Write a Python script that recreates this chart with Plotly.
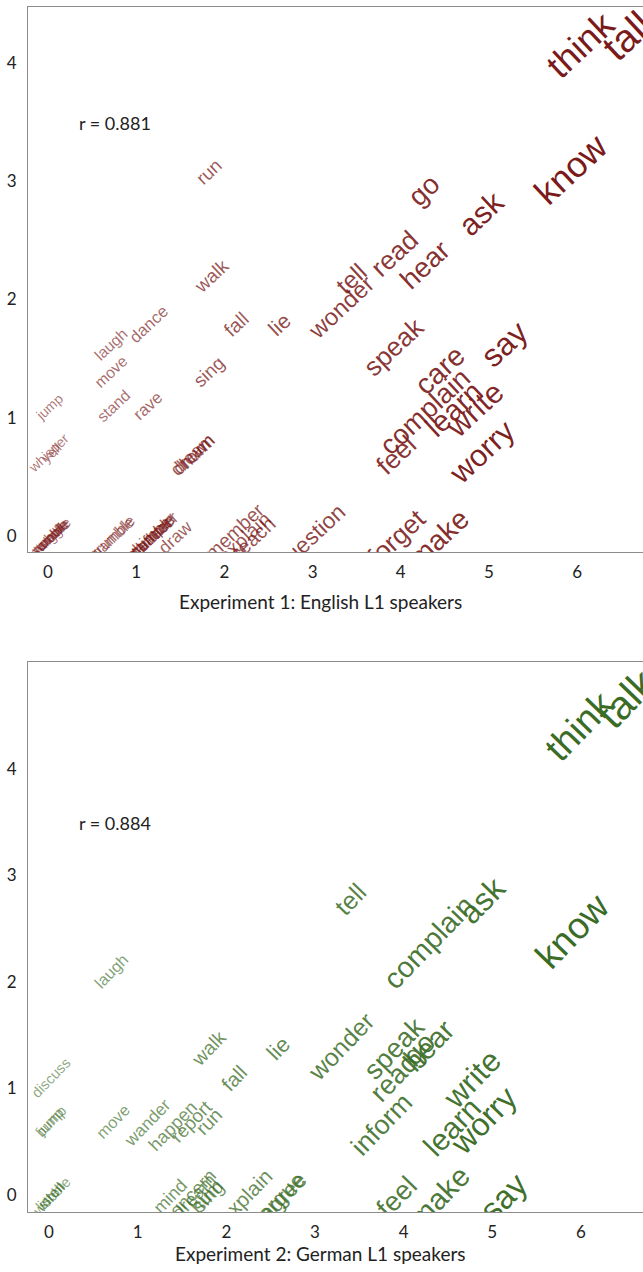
import plotly.graph_objects as go

# ---- Experiment 1: English L1 speakers ----
words_en = ["think", "talk", "know", "ask", "go", "read", "hear", "tell", "wonder",
            "speak", "say", "care", "complain", "learn", "write", "feel", "worry",
            "forget", "make", "question", "remember", "explain", "teach", "draw",
            "run", "walk", "fall", "lie", "laugh", "dance", "move", "sing", "jump",
            "stand", "rave", "whisper", "yell", "dream", "drown", "hum", "grumble",
            "gamble", "crawl", "stumble", "wriggle", "tumble", "stroll", "wobble",
            "chatter", "mumble", "stammer", "whimper", "reflect"]
x_en = [6.01, 6.58, 5.90, 4.89, 4.24, 3.91, 4.25, 3.42, 3.31,
        3.90, 5.15, 4.42, 4.25, 4.58, 4.82, 3.93, 4.90,
        3.93, 4.41, 2.96, 2.03, 2.21, 2.32, 1.43,
        1.81, 1.84, 2.12, 2.61, 0.70, 1.13, 0.70, 1.81, 0.01,
        0.73, 1.12, 0.00, 0.03, 1.62, 1.64, 1.66, 0.71,
        0.72, 0.02, 0.02, 0.03, 0.02, 0.02, 0.01,
        1.16, 1.15, 1.16, 1.14, 1.16]
y_en = [4.17, 4.28, 3.12, 2.74, 2.94, 2.40, 2.31, 2.19, 1.95,
        1.61, 1.64, 1.42, 1.07, 1.09, 1.09, 0.70, 0.73,
        0.00, 0.00, 0.00, 0.00, 0.00, 0.00, 0.00,
        3.09, 2.21, 1.80, 1.80, 1.63, 1.80, 1.40, 1.40, 1.10,
        1.11, 1.11, 0.71, 0.71, 0.70, 0.70, 0.71, 0.00,
        0.00, 0.00, 0.00, 0.00, 0.00, 0.00, 0.00,
        0.00, 0.00, 0.00, 0.00, 0.00]
r_en = 0.881

# ---- Experiment 2: German L1 speakers ----
words_de = ["think", "talk", "know", "ask", "complain", "tell", "wonder", "speak",
            "go", "hear", "read", "inform", "write", "learn", "worry", "feel",
            "make", "say", "explain", "argue", "agree", "mind", "concern", "dream",
            "sing", "hum", "listen", "stroll", "wobble", "jump", "bump", "discuss",
            "laugh", "move", "wander", "happen", "report", "run", "walk", "fall",
            "lie"]
x_de = [5.95, 6.48, 5.87, 4.86, 4.26, 3.38, 3.28, 3.87,
        4.15, 4.26, 3.87, 3.73, 4.75, 4.52, 4.88, 3.90,
        4.38, 5.10, 2.20, 2.60, 2.62, 1.35, 1.57, 1.62,
        1.78, 1.76, 0.00, 0.01, 0.02, 0.00, 0.01, 0.01,
        0.69, 0.71, 1.10, 1.38, 1.59, 1.79, 1.79, 2.07,
        2.57]
y_de = [4.42, 4.68, 2.50, 2.78, 2.39, 2.79, 1.41, 1.39,
        1.39, 1.42, 1.12, 0.68, 1.11, 0.66, 0.72, 0.00,
        0.00, 0.00, 0.00, 0.00, 0.00, 0.00, 0.00, 0.00,
        0.00, 0.00, 0.00, 0.00, 0.00, 0.70, 0.70, 1.11,
        2.11, 0.70, 0.69, 0.66, 0.70, 0.70, 1.39, 1.11,
        1.39]
r_de = 0.884

x_ticks = [0, 1, 2, 3, 4, 5, 6]
y_ticks = [0, 1, 2, 3, 4]
panel_titles = ["Experiment 1: English L1 speakers", "Experiment 2: German L1 speakers"]

W, H = 643, 1272
LABEL_FONT = dict(family="Lato, Open Sans, sans-serif", size=18, color="#222222")
TITLE_FONT = dict(family="Lato, Open Sans, sans-serif", size=19, color="#222222")
TICK_FONT = dict(family="Lato, Open Sans, sans-serif", size=17, color="#222222")
WORD_FONT = "Liberation Sans, Arial, sans-serif"
LINE_COLOR = "#8c8c8c"


def word_size(v, scale):
    # word size grows with the horizontal score
    return scale * (14 + 2.2 * v + 0.25 * v * v)


def word_alpha(v):
    return min(1.0, 0.6 + 0.075 * v)


panels = [
    dict(words=words_en, xs=x_en, ys=y_en, r=r_en, rgb=(122, 26, 26), angle=-43,
         scale=1.0, xa="x", ya="y", title=panel_titles[0],
         xrange=[-0.227, 6.746], yrange=[-0.135, 4.47],
         ydom=[1 - 552 / H, 1 - 7 / H], rx=0.33, ry=3.49, ty=1 - 601 / H),
    dict(words=words_de, xs=x_de, ys=y_de, r=r_de, rgb=(58, 108, 38), angle=-46,
         scale=1.04, xa="x2", ya="y2", title=panel_titles[1],
         xrange=[-0.237, 6.70], yrange=[-0.16, 5.0],
         ydom=[1 - 1212 / H, 1 - 662 / H], rx=0.32, ry=3.49, ty=1 - 1253 / H),
]

fig = go.Figure()
shapes = []
annotations = []

for i, p in enumerate(panels):
    fig.add_trace(go.Scatter(
        x=p["xs"], y=p["ys"], text=p["words"], mode="markers",
        marker=dict(size=2, opacity=0), hoverinfo="text",
        xaxis=p["xa"], yaxis=p["ya"], showlegend=False))

    r, g, b = p["rgb"]
    for w, xv, yv in zip(p["words"], p["xs"], p["ys"]):
        # zero-size shape carrying a rotated label, clipped to the plot area
        shapes.append(dict(
            type="rect", xref=p["xa"], yref=p["ya"],
            x0=xv, x1=xv, y0=yv, y1=yv,
            line=dict(width=0), fillcolor="rgba(0,0,0,0)", layer="above",
            label=dict(text=w, textangle=p["angle"], textposition="middle center",
                       xanchor="center", yanchor="middle", padding=0,
                       font=dict(family=WORD_FONT, size=word_size(xv, p["scale"]),
                                 color=f"rgba({r},{g},{b},{word_alpha(xv):.2f})"))))

    annotations.append(dict(
        xref=p["xa"], yref=p["ya"], x=p["rx"], y=p["ry"], xanchor="left",
        yanchor="middle", showarrow=False, text=f"r = {p['r']:.3f}", font=LABEL_FONT))
    annotations.append(dict(
        xref="paper", yref="paper", x=320 / W, y=p["ty"], xanchor="center",
        yanchor="middle", showarrow=False, text=p["title"], font=TITLE_FONT))

    xkey = "xaxis" if i == 0 else "xaxis2"
    ykey = "yaxis" if i == 0 else "yaxis2"
    fig.update_layout({
        xkey: dict(domain=[28 / W, 1], range=p["xrange"], anchor=p["ya"],
                   showline=True, linecolor=LINE_COLOR, linewidth=1, mirror=True,
                   showgrid=False, zeroline=False, tickvals=x_ticks,
                   ticks="outside", ticklen=5, tickcolor="rgba(0,0,0,0)",
                   tickfont=TICK_FONT, fixedrange=True),
        ykey: dict(domain=p["ydom"], range=p["yrange"], anchor=p["xa"],
                   showline=True, linecolor=LINE_COLOR, linewidth=1,
                   showgrid=False, zeroline=False, tickvals=y_ticks,
                   ticks="outside", ticklen=7, tickcolor="rgba(0,0,0,0)",
                   tickfont=TICK_FONT, fixedrange=True),
    })

fig.update_layout(
    width=W, height=H, margin=dict(l=0, r=0, t=0, b=0, autoexpand=False),
    paper_bgcolor="white", plot_bgcolor="white",
    shapes=shapes, annotations=annotations, hovermode="closest",
)

fig.write_html("out.html", config={"displayModeBar": False})
